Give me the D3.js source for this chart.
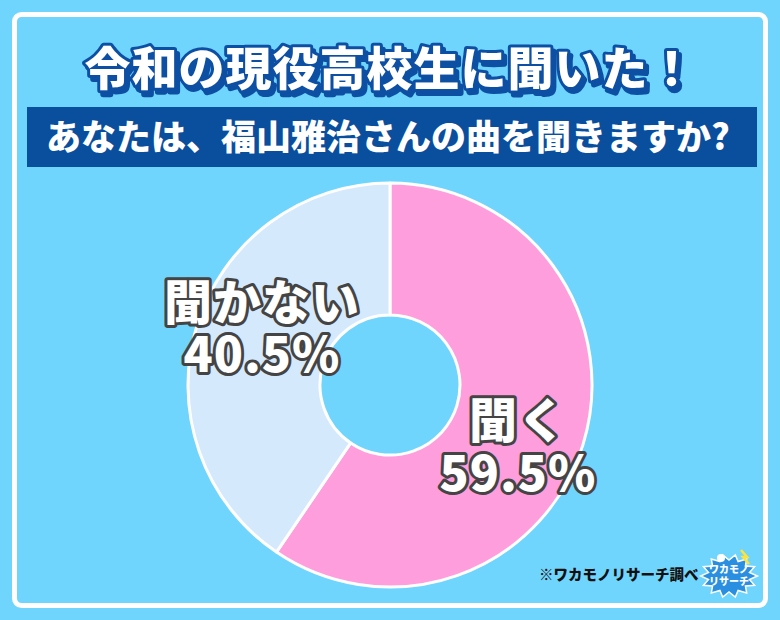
<!DOCTYPE html>
<html><head><meta charset="utf-8">
<script src="https://cdn.jsdelivr.net/npm/d3@7"></script>
<style>html,body{margin:0;padding:0;background:#70d5fd;}svg{display:block;}</style>
</head><body>
<script>
const categories = ["聞く", "聞かない"];
const values = [59.5, 40.5];
const valueLabels = ["59.5%", "40.5%"];
const colors = ["#ff9edc", "#d5e9fd"];
const title = "令和の現役高校生に聞いた！";
const subtitle = "あなたは、福山雅治さんの曲を聞きますか?";
const source = "※ワカモノリサーチ調べ";

const W = 780, H = 620;
const svg = d3.select("body").append("svg").attr("width", W).attr("height", H);
const FONT = "'Noto Sans CJK JP', 'Noto Sans', sans-serif";

const defs = svg.append("defs");
const f = defs.append("filter").attr("id", "sh").attr("x", "-10%").attr("y", "-30%").attr("width", "130%").attr("height", "180%");
f.append("feDropShadow").attr("dx", 3).attr("dy", 4).attr("stdDeviation", 0).attr("flood-color", "#0d4fa3").attr("flood-opacity", 1);

svg.append("rect").attr("width", W).attr("height", H).attr("fill", "#70d5fd");
svg.append("rect").attr("x", 14.5).attr("y", 14.5).attr("width", 751).attr("height", 591)
  .attr("rx", 7).attr("fill", "#70d5fd").attr("stroke", "#ffffff").attr("stroke-width", 5);

// Title
svg.append("text").attr("x", 390).attr("y", 85).attr("text-anchor", "middle")
  .attr("font-family", FONT).attr("font-weight", 900).attr("font-size", 46)
  .attr("letter-spacing", 1)
  .attr("fill", "#ffffff").attr("stroke", "#0d4fa3").attr("stroke-width", 6)
  .attr("stroke-linejoin", "round").attr("paint-order", "stroke")
  .attr("filter", "url(#sh)").text(title);

// Subtitle band
svg.append("rect").attr("x", 27).attr("y", 107).attr("width", 730).attr("height", 60).attr("fill", "#0a4e9e");
svg.append("text").attr("x", 388).attr("y", 150).attr("text-anchor", "middle")
  .attr("font-family", FONT).attr("font-weight", 900).attr("font-size", 35)
  .attr("fill", "#ffffff").text(subtitle);

// Donut
const cx = 390, cy = 385, rOuter = 202, rInner = 70;
const pie = d3.pie().sort(null).value(d => d)(values);
const arc = d3.arc().innerRadius(rInner).outerRadius(rOuter);
const g = svg.append("g").attr("transform", `translate(${cx},${cy})`);
g.selectAll("path").data(pie).join("path")
  .attr("d", arc).attr("fill", (d, i) => colors[i])
  .attr("stroke", "#ffffff").attr("stroke-width", 3).attr("stroke-linejoin", "round");

// Labels
const labelPos = [
  {x: 518, y1: 438, y2: 491},
  {x: 262, y1: 320, y2: 372}
];
categories.forEach((c, i) => {
  const p = labelPos[i];
  const t = svg.append("text").attr("text-anchor", "middle")
    .attr("font-family", FONT).attr("font-weight", 900).attr("font-size", 48)
    .attr("letter-spacing", 1)
    .attr("fill", "#ffffff").attr("stroke", "#444444").attr("stroke-width", 6)
    .attr("stroke-linejoin", "round").attr("paint-order", "stroke");
  t.append("tspan").attr("x", p.x).attr("y", p.y1).text(c);
  t.append("tspan").attr("x", p.x).attr("y", p.y2).text(valueLabels[i]);
});

// Source
svg.append("text").attr("x", 539).attr("y", 580)
  .attr("font-family", FONT).attr("font-weight", 900).attr("font-size", 14.5)
  .attr("fill", "#111111").text(source);

// Logo (simple burst)
const lg = svg.append("g").attr("transform", "translate(729,576)");
const pts = [];
const spikes = 14;
for (let k = 0; k < spikes * 2; k++) {
  const a = k / (spikes * 2) * Math.PI * 2;
  const r = k % 2 === 0 ? 27 : 20;
  pts.push([Math.cos(a) * r * 1.05, Math.sin(a) * r * 0.8]);
}
lg.append("path").attr("d", d3.line().curve(d3.curveLinearClosed)(pts))
  .attr("fill", "#2a8fe0").attr("stroke", "#ffffff").attr("stroke-width", 1.5);
lg.append("circle").attr("cx", -8).attr("cy", -18).attr("r", 4).attr("fill", "#ffffff");
lg.append("path").attr("d", "M12,-26 L18,-19 L14,-19 L20,-12").attr("fill", "none").attr("stroke", "#ffe23a").attr("stroke-width", 2.5);
const lt = lg.append("text").attr("text-anchor", "middle")
  .attr("font-family", FONT).attr("font-weight", 900).attr("font-size", 10).attr("fill", "#ffffff");
lt.append("tspan").attr("x", 0).attr("y", -3).text("ワカモノ");
lt.append("tspan").attr("x", 0).attr("y", 9).text("リサーチ");
</script>
</body></html>
